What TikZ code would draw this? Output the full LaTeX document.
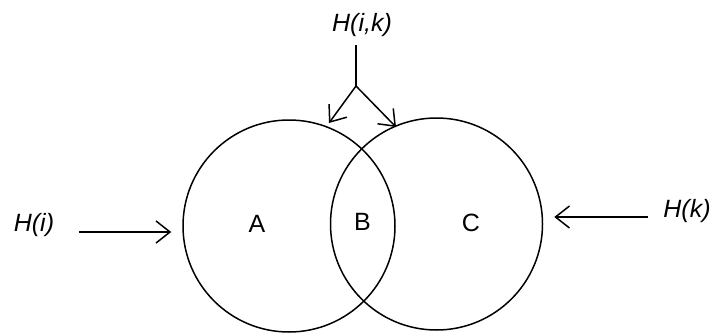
\documentclass[tikz,border=0pt]{standalone}
\usepackage{fontspec}
\setmainfont{Liberation Sans}
\usetikzlibrary{arrows.meta}
\begin{document}
\begin{tikzpicture}[x=0.5pt,y=-0.5pt,line width=0.75pt,
  >={Straight Barb[length=7pt,width=11pt]},
  font=\fontsize{12.5}{15}\selectfont,
  set/.style={draw,circle,inner sep=0pt,minimum size=106pt},
  ent/.style={inner sep=0pt,font=\fontsize{12.5}{15}\selectfont\itshape}]
\useasboundingbox (0,0) rectangle (717,332);
\node[set] (left) at (289,226) {};
\node[set] (right) at (436.5,224) {};
\node (A) at (257,224) {A};
\node (B) at (362.5,222) {B};
\node (C) at (471,223) {C};
\node[ent] (Hi) at (34,225) {H(i)};
\node[ent] (Hk) at (687,211) {H(k)};
\node[ent] (Hik) at (362,25) {H(i,k)};
\coordinate (fork) at (356,86);
\coordinate (tipA) at (329,123);
\coordinate (tipC) at (396,127);
\draw[->] ([xshift=12pt,yshift=-3.5pt]Hi.east) coordinate (hi0)
  -- ([xshift=-5.5pt]left.west |- hi0);
\draw[->] ([xshift=-7.5pt,yshift=-3pt]Hk.west) coordinate (hk0)
  -- ([xshift=5.5pt]right.east |- hk0);
\draw (Hik.south -| fork) ++(0,8) -- (fork);
\draw[->] (fork) -- (tipA);
\draw[->] (fork) -- (tipC);
\end{tikzpicture}
\end{document}
